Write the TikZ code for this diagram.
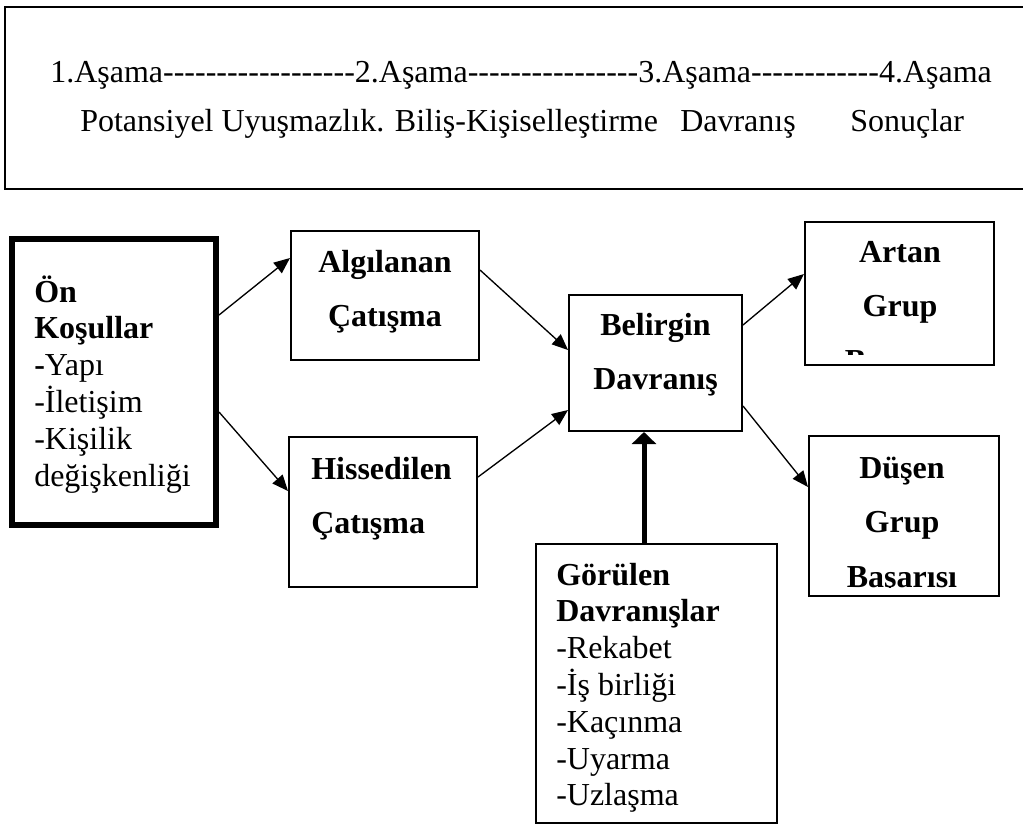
\documentclass[tikz,border=0pt]{standalone}
\usepackage{fontspec}
\setmainfont{Liberation Serif}
% plain family without TeX ligatures, so runs of hyphens stay hyphens
\newfontfamily\stagefont{Liberation Serif}
\usetikzlibrary{arrows.meta}
\newcommand\textsz{\fontsize{24pt}{27.5pt}\selectfont}
\newcommand\titlesz{\fontsize{24pt}{41pt}\selectfont\bfseries}
\newcommand\stagesz{\stagefont\fontsize{24pt}{28pt}\selectfont}

\begin{document}
\begin{tikzpicture}[x=0.75pt,y=-0.75pt,
  frame/.style={draw, line width=1.5pt, inner sep=0pt},
  heavyframe/.style={draw, line width=4.5pt, inner sep=0pt},
  txt/.style={inner sep=0pt},
  arr/.style={-{Triangle[length=12pt,width=10pt]}, line width=1pt},
  heavyarr/.style={-{Triangle[length=9pt,width=18pt]}, line width=3.75pt}]
\useasboundingbox (0,0) rectangle (1023,825);

% stage banner
\node[frame, minimum width=1030*0.75pt, minimum height=182*0.75pt] (stages) at (520,98) {};
\node[txt, anchor=base west, font=\stagesz] (stagenums) at (50,82)
  {1.Aşama------------------2.Aşama----------------3.Aşama------------4.Aşama};
\node[txt, anchor=base west, font=\stagesz] (stagea) at (80,131)
  {Potansiyel Uyuşmazlık. Biliş-Kişiselleştirme};
\node[txt, anchor=base west, font=\stagesz] (stageb) at (680,131) {Davranış};
\node[txt, anchor=base west, font=\stagesz] (stagec) at (850,131) {Sonuçlar};

% boxes
\node[heavyframe, minimum width=204*0.75pt, minimum height=286.5*0.75pt] (onk) at (114,381.75) {};
\node[frame, minimum width=188*0.75pt, minimum height=129*0.75pt] (alg) at (385,295.5) {};
\node[frame, minimum width=188*0.75pt, minimum height=150*0.75pt] (his) at (383,512) {};
\node[frame, minimum width=173*0.75pt, minimum height=136*0.75pt] (bel) at (655.5,363) {};
\node[frame, minimum width=241*0.75pt, minimum height=279*0.75pt] (gor) at (656.5,683.5) {};
\node[frame, minimum width=189*0.75pt, minimum height=143*0.75pt] (art) at (899.5,293.5) {};
\node[frame, minimum width=190*0.75pt, minimum height=160*0.75pt] (dus) at (904,516) {};

% box texts
\node[txt, anchor=base west, font=\textsz] (onkt) at (34,302)
  {\begin{tabular}[t]{@{}l@{}}\textbf{Ön}\\\textbf{Koşullar}\\\textbf{-}Yapı\\-İletişim\\-Kişilik\\değişkenliği\end{tabular}};
\node[txt, anchor=base, font=\titlesz] (algt) at (385,272)
  {\begin{tabular}[t]{@{}c@{}}Algılanan\\Çatışma\end{tabular}};
\node[txt, anchor=base west, font=\titlesz] (hist) at (311,479)
  {\begin{tabular}[t]{@{}l@{}}Hissedilen\\Çatışma\end{tabular}};
\node[txt, anchor=base, font=\titlesz] (belt) at (655.5,335)
  {\begin{tabular}[t]{@{}c@{}}Belirgin\\Davranış\end{tabular}};
\node[txt, anchor=base west, font=\textsz] (gort) at (556,585)
  {\begin{tabular}[t]{@{}l@{}}\textbf{Görülen}\\\textbf{Davranışlar}\\-Rekabet\\-İş birliği\\-Kaçınma\\-Uyarma\\-Uzlaşma\end{tabular}};
\begin{scope}
  \clip (805,222) rectangle (994,354);
  \node[txt, anchor=base, font=\titlesz] (artt) at (900,262)
    {\begin{tabular}[t]{@{}c@{}}Artan\\Grup\\Başarısı\end{tabular}};
\end{scope}
\begin{scope}
  \clip (809,436) rectangle (999,587);
  \node[txt, anchor=base, font=\titlesz] (dust) at (902,478)
    {\begin{tabular}[t]{@{}c@{}}Düşen\\Grup\\Başarısı\end{tabular}};
\end{scope}

% connectors
\draw[arr] (onk.east |- 0,315) -- (alg.west |- 0,258);
\draw[arr] (onk.east |- 0,412) -- (his.west |- 0,491);
\draw[arr] (alg.east |- 0,270) -- (bel.west |- 0,350);
\draw[arr] (his.east |- 0,477) -- (bel.west |- 0,410);
\draw[arr] (bel.east |- 0,325) -- (art.west |- 0,274);
\draw[arr] (bel.east |- 0,406) -- (dus.west |- 0,487);
\draw[heavyarr] (gor.north -| 644,0) -- (bel.south -| 644,0);
\end{tikzpicture}
\end{document}
